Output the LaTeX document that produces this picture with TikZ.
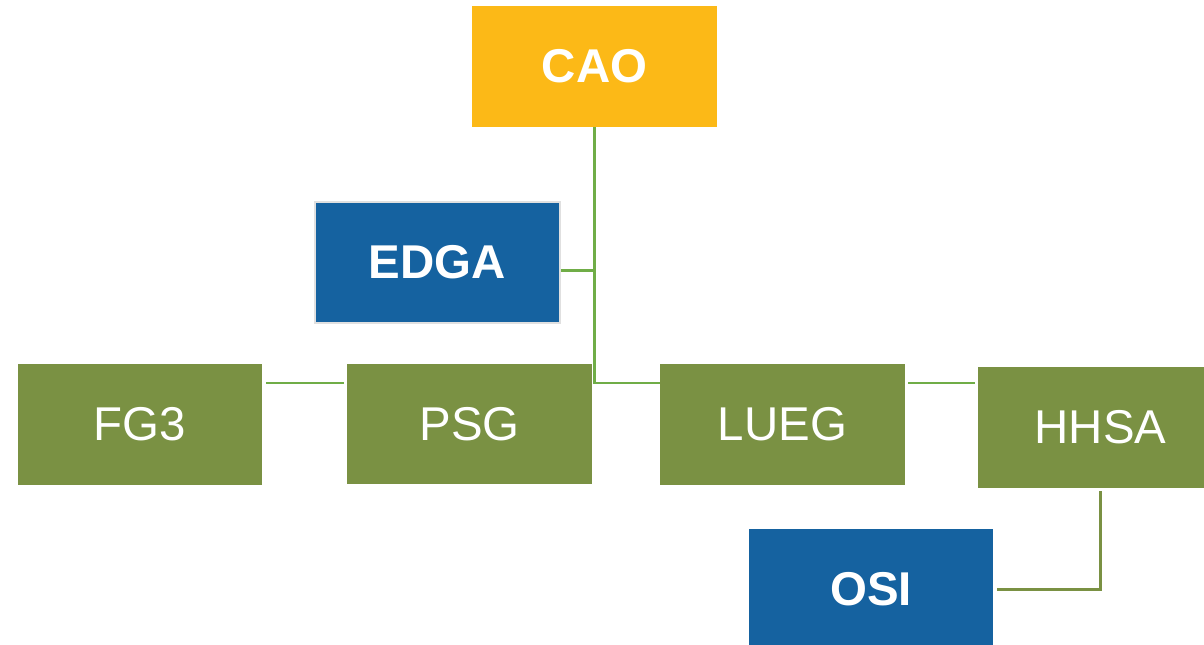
\documentclass[tikz,border=0pt]{standalone}
\usepackage{fontspec}
\setmainfont{Liberation Sans}
\usetikzlibrary{calc}
\definecolor{caoyellow}{RGB}{252,185,23}
\definecolor{unitblue}{RGB}{21,98,160}
\definecolor{unitgreen}{RGB}{122,145,67}
\definecolor{linkgreen}{RGB}{112,173,71}
\begin{document}
\begin{tikzpicture}[x=0.02cm, y=-0.02cm,
	unit/.style={rectangle, minimum width=4.9cm, minimum height=2.42cm, inner sep=0pt, text=white, font=\fontsize{27}{32}\selectfont},
	lead/.style={unit, font=\fontsize{27}{32}\selectfont\bfseries},
	link/.style={draw=linkgreen, line width=1.7pt},
	sublink/.style={draw=unitgreen, line width=1.7pt}]
	\useasboundingbox (0,0) rectangle (1204,645);
	\clip (0,0) rectangle (1204,645);
	\node (cao) at (594.5,66.5) [lead, fill=caoyellow] {CAO};
	\node (edga) at (437.5,262.5) [lead, fill=unitblue, draw=black!12, line width=1.1pt] {EDGA};
	\node (fg3) at (140,424.5) [unit, fill=unitgreen] {FG3};
	\node (psg) at (469.5,424) [unit, fill=unitgreen] {PSG};
	\node (lueg) at (782.5,424.5) [unit, fill=unitgreen] {LUEG};
	\node (hhsa) at (1100.5,427.5) [unit, fill=unitgreen] {HHSA};
	\node (osi) at (871,589.5) [lead, fill=unitblue] {OSI};
	\draw [link] (cao.south) |- ($(lueg.west)+(0,-41.5)$);
	\draw [link] ($(edga.east)+(0,8)$) -| (cao.south);
	\draw [link] ($(fg3.east)+(3,-41.5)$) -- ($(psg.west)+(-3,-41)$);
	\draw [link] ($(lueg.east)+(3,-41.5)$) -- ($(hhsa.west)+(-3,-44.5)$);
	\draw [sublink] ($(hhsa.south)+(0,3)$) |- ($(osi.east)+(3,0)$);
\end{tikzpicture}
\end{document}
